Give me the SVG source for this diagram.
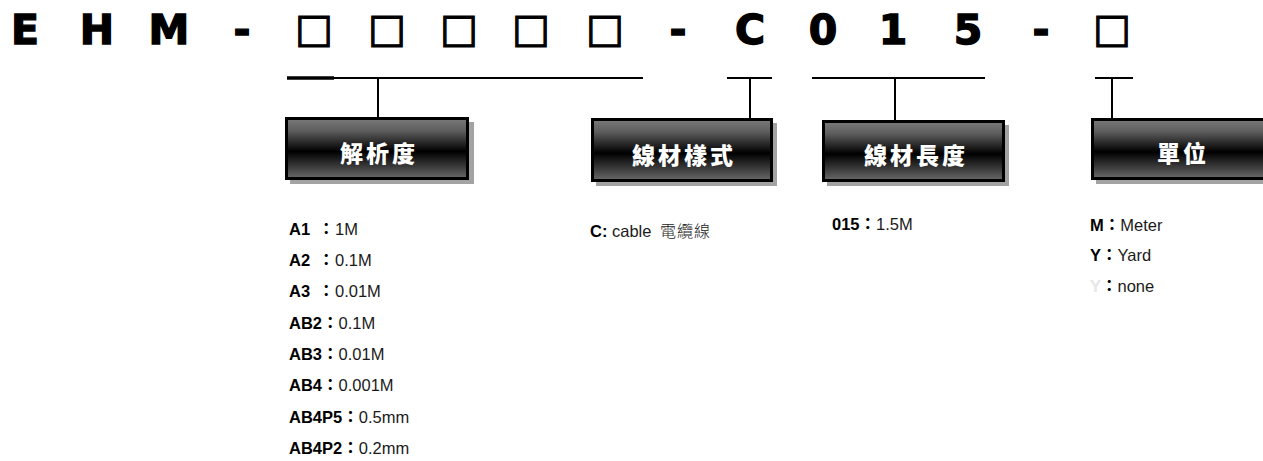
<svg xmlns="http://www.w3.org/2000/svg" width="1263" height="461" viewBox="0 0 1263 461">
<defs>
<linearGradient id="metal" x1="0" y1="0" x2="0" y2="1">
<stop offset="0" stop-color="#7a7a7a"/>
<stop offset="0.2" stop-color="#5e5e5e"/>
<stop offset="0.55" stop-color="#000"/>
<stop offset="0.8" stop-color="#3a3a3a"/>
<stop offset="1" stop-color="#6a6a6a"/>
</linearGradient>
<style>
.title{font-family:"DejaVu Sans","Liberation Sans",sans-serif;font-weight:bold;font-size:41px;fill:#000;stroke:#000;stroke-width:1.4;text-anchor:middle}
.sq{font-family:"DejaVu Sans",sans-serif;font-size:40px;fill:#000;stroke:#000;stroke-width:1.2;text-anchor:middle}
.box{fill:url(#metal);stroke:#000;stroke-width:3}
.shadow{fill:#a3a3a3}
.lbl{font-family:"Noto Sans CJK TC",sans-serif;font-weight:900;font-size:23px;fill:#fff;text-anchor:middle;letter-spacing:3px}
.t{font-family:"Liberation Sans","Noto Sans CJK TC",sans-serif;font-size:16.5px;fill:#1a1a1a}
.b{font-weight:bold;fill:#000}
.c{font-family:"Noto Sans CJK TC",sans-serif;font-weight:bold}
.cj{font-family:"Noto Sans CJK TC",sans-serif;font-weight:300;font-size:16px;letter-spacing:1px}
.ln{stroke:#000;stroke-width:2;fill:none}
</style>
</defs>
<rect width="1263" height="461" fill="#fff"/>
<g id="title">
<text class="title" x="25" y="44">E</text>
<text class="title" x="97" y="44">H</text>
<text class="title" x="169" y="44">M</text>
<text class="title" x="242" y="44">-</text>
<text class="sq" x="314" y="42">□</text>
<text class="sq" x="387" y="42">□</text>
<text class="sq" x="459" y="42">□</text>
<text class="sq" x="531" y="42">□</text>
<text class="sq" x="605" y="42">□</text>
<text class="title" x="678" y="44">-</text>
<text class="title" x="750" y="44">C</text>
<text class="title" x="823" y="44">0</text>
<text class="title" x="893" y="44">1</text>
<text class="title" x="968" y="44">5</text>
<text class="title" x="1041" y="44">-</text>
<text class="sq" x="1112" y="42">□</text>
</g>
<g id="connectors">
<line class="ln" x1="287" y1="78" x2="643" y2="78"/>
<line x1="287" y1="78" x2="334" y2="78" stroke="#000" stroke-width="3.5"/>
<line class="ln" x1="378" y1="78" x2="378" y2="118"/>
<line class="ln" x1="727" y1="78" x2="772" y2="78"/>
<line class="ln" x1="750" y1="78" x2="750" y2="119"/>
<line class="ln" x1="812" y1="78" x2="985" y2="78"/>
<line class="ln" x1="895" y1="78" x2="895" y2="121"/>
<line class="ln" x1="1095" y1="78" x2="1133" y2="78"/>
<line class="ln" x1="1112" y1="78" x2="1112" y2="119"/>
</g>
<g id="node-resolution">
<rect class="shadow" x="290" y="122" width="184" height="62"/>
<rect class="box" x="286.5" y="118.5" width="181" height="60"/>
<text class="lbl" x="379" y="162">解析度</text>
<text class="t" y="235"><tspan class="b" x="289">A1</tspan><tspan class="c b" x="318">：</tspan><tspan x="335">1M</tspan></text>
<text class="t" y="266"><tspan class="b" x="289">A2</tspan><tspan class="c b" x="318">：</tspan><tspan x="335">0.1M</tspan></text>
<text class="t" y="297"><tspan class="b" x="289">A3</tspan><tspan class="c b" x="318">：</tspan><tspan x="335">0.01M</tspan></text>
<text class="t" x="289" y="329"><tspan class="b">AB2</tspan><tspan class="c b">：</tspan><tspan>0.1M</tspan></text>
<text class="t" x="289" y="360"><tspan class="b">AB3</tspan><tspan class="c b">：</tspan><tspan>0.01M</tspan></text>
<text class="t" x="289" y="391"><tspan class="b">AB4</tspan><tspan class="c b">：</tspan><tspan>0.001M</tspan></text>
<text class="t" x="289" y="423"><tspan class="b">AB4P5</tspan><tspan class="c b">：</tspan><tspan>0.5mm</tspan></text>
<text class="t" x="289" y="454"><tspan class="b">AB4P2</tspan><tspan class="c b">：</tspan><tspan>0.2mm</tspan></text>
</g>
<g id="node-cable-type">
<rect class="shadow" x="596" y="123" width="181" height="63"/>
<rect class="box" x="592.5" y="119.5" width="179" height="61"/>
<text class="lbl" x="684" y="164">線材樣式</text>
<text class="t" x="590" y="237"><tspan class="b">C:</tspan><tspan> cable</tspan><tspan class="cj" x="660">電纜線</tspan></text>
</g>
<g id="node-cable-length">
<rect class="shadow" x="827" y="125" width="182" height="61"/>
<rect class="box" x="823.5" y="121.5" width="180" height="59"/>
<text class="lbl" x="916" y="164">線材長度</text>
<text class="t" x="832" y="230"><tspan class="b">015</tspan><tspan class="c b">：</tspan><tspan>1.5M</tspan></text>
</g>
<g id="node-unit">
<rect class="shadow" x="1096" y="123" width="180" height="61"/>
<rect class="box" x="1092.5" y="119.5" width="180" height="59"/>
<text class="lbl" x="1183" y="162">單位</text>
<text class="t" x="1090" y="231"><tspan class="b">M</tspan><tspan class="c b">：</tspan><tspan>Meter</tspan></text>
<text class="t" x="1090" y="261"><tspan class="b">Y</tspan><tspan class="c b">：</tspan><tspan>Yard</tspan></text>
<text class="t" x="1090" y="292"><tspan class="b" style="fill:#e6e6e6">Y</tspan><tspan class="c b">：</tspan><tspan>none</tspan></text>
</g>
</svg>
